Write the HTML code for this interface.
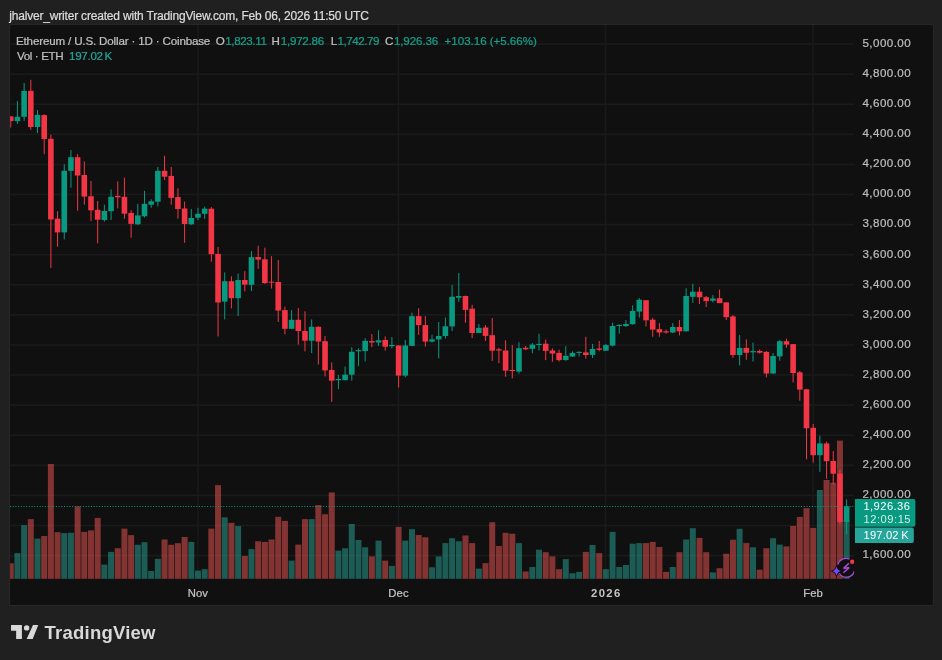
<!DOCTYPE html>
<html><head><meta charset="utf-8"><style>
*{margin:0;padding:0}
html,body{width:942px;height:660px;overflow:hidden;background:#202020}
svg{position:absolute;left:0;top:0;font-family:"Liberation Sans",sans-serif;will-change:transform}
</style></head><body>
<svg width="942" height="660" viewBox="0 0 942 660">
<rect x="9.5" y="24.5" width="924" height="581" rx="1.5" fill="#101010" stroke="#272727" stroke-width="1.2"/>
<line x1="10" y1="44.15" x2="854" y2="44.15" stroke="#1a1a1a" stroke-width="1.6"/>
<line x1="10" y1="74.23" x2="854" y2="74.23" stroke="#1a1a1a" stroke-width="1.6"/>
<line x1="10" y1="104.32" x2="854" y2="104.32" stroke="#1a1a1a" stroke-width="1.6"/>
<line x1="10" y1="134.4" x2="854" y2="134.4" stroke="#1a1a1a" stroke-width="1.6"/>
<line x1="10" y1="164.49" x2="854" y2="164.49" stroke="#1a1a1a" stroke-width="1.6"/>
<line x1="10" y1="194.57" x2="854" y2="194.57" stroke="#1a1a1a" stroke-width="1.6"/>
<line x1="10" y1="224.65" x2="854" y2="224.65" stroke="#1a1a1a" stroke-width="1.6"/>
<line x1="10" y1="254.74" x2="854" y2="254.74" stroke="#1a1a1a" stroke-width="1.6"/>
<line x1="10" y1="284.82" x2="854" y2="284.82" stroke="#1a1a1a" stroke-width="1.6"/>
<line x1="10" y1="314.91" x2="854" y2="314.91" stroke="#1a1a1a" stroke-width="1.6"/>
<line x1="10" y1="344.99" x2="854" y2="344.99" stroke="#1a1a1a" stroke-width="1.6"/>
<line x1="10" y1="375.07" x2="854" y2="375.07" stroke="#1a1a1a" stroke-width="1.6"/>
<line x1="10" y1="405.16" x2="854" y2="405.16" stroke="#1a1a1a" stroke-width="1.6"/>
<line x1="10" y1="435.24" x2="854" y2="435.24" stroke="#1a1a1a" stroke-width="1.6"/>
<line x1="10" y1="465.33" x2="854" y2="465.33" stroke="#1a1a1a" stroke-width="1.6"/>
<line x1="10" y1="495.41" x2="854" y2="495.41" stroke="#1a1a1a" stroke-width="1.6"/>
<line x1="10" y1="525.49" x2="854" y2="525.49" stroke="#1a1a1a" stroke-width="1.6"/>
<line x1="10" y1="555.58" x2="854" y2="555.58" stroke="#1a1a1a" stroke-width="1.6"/>
<line x1="198.0" y1="25" x2="198.0" y2="579" stroke="#1a1a1a" stroke-width="1.6"/>
<line x1="398.5" y1="25" x2="398.5" y2="579" stroke="#1a1a1a" stroke-width="1.6"/>
<line x1="605.5" y1="25" x2="605.5" y2="579" stroke="#1a1a1a" stroke-width="1.6"/>
<line x1="813.0" y1="25" x2="813.0" y2="579" stroke="#1a1a1a" stroke-width="1.6"/>
<rect x="7.75" y="563.30" width="6.0" height="15.50" fill="rgba(246,88,84,0.5)"/>
<rect x="14.44" y="553.10" width="6.0" height="25.70" fill="rgba(40,168,152,0.5)"/>
<rect x="21.12" y="525.10" width="6.0" height="53.70" fill="rgba(40,168,152,0.5)"/>
<rect x="27.81" y="519.10" width="6.0" height="59.70" fill="rgba(246,88,84,0.5)"/>
<rect x="34.50" y="538.60" width="6.0" height="40.20" fill="rgba(40,168,152,0.5)"/>
<rect x="41.19" y="536.00" width="6.0" height="42.80" fill="rgba(246,88,84,0.5)"/>
<rect x="47.87" y="464.00" width="6.0" height="114.80" fill="rgba(246,88,84,0.5)"/>
<rect x="54.56" y="532.20" width="6.0" height="46.60" fill="rgba(246,88,84,0.5)"/>
<rect x="61.25" y="533.10" width="6.0" height="45.70" fill="rgba(40,168,152,0.5)"/>
<rect x="67.93" y="532.80" width="6.0" height="46.00" fill="rgba(40,168,152,0.5)"/>
<rect x="74.62" y="506.40" width="6.0" height="72.40" fill="rgba(246,88,84,0.5)"/>
<rect x="81.31" y="531.90" width="6.0" height="46.90" fill="rgba(246,88,84,0.5)"/>
<rect x="87.99" y="530.40" width="6.0" height="48.40" fill="rgba(246,88,84,0.5)"/>
<rect x="94.68" y="517.90" width="6.0" height="60.90" fill="rgba(246,88,84,0.5)"/>
<rect x="101.37" y="564.60" width="6.0" height="14.20" fill="rgba(40,168,152,0.5)"/>
<rect x="108.06" y="551.90" width="6.0" height="26.90" fill="rgba(40,168,152,0.5)"/>
<rect x="114.74" y="548.20" width="6.0" height="30.60" fill="rgba(246,88,84,0.5)"/>
<rect x="121.43" y="528.60" width="6.0" height="50.20" fill="rgba(246,88,84,0.5)"/>
<rect x="128.12" y="535.10" width="6.0" height="43.70" fill="rgba(246,88,84,0.5)"/>
<rect x="134.80" y="544.80" width="6.0" height="34.00" fill="rgba(40,168,152,0.5)"/>
<rect x="141.49" y="542.20" width="6.0" height="36.60" fill="rgba(40,168,152,0.5)"/>
<rect x="148.18" y="571.00" width="6.0" height="7.80" fill="rgba(40,168,152,0.5)"/>
<rect x="154.86" y="558.80" width="6.0" height="20.00" fill="rgba(40,168,152,0.5)"/>
<rect x="161.55" y="539.50" width="6.0" height="39.30" fill="rgba(246,88,84,0.5)"/>
<rect x="168.24" y="544.80" width="6.0" height="34.00" fill="rgba(246,88,84,0.5)"/>
<rect x="174.93" y="543.20" width="6.0" height="35.60" fill="rgba(246,88,84,0.5)"/>
<rect x="181.61" y="537.00" width="6.0" height="41.80" fill="rgba(246,88,84,0.5)"/>
<rect x="188.30" y="541.90" width="6.0" height="36.90" fill="rgba(40,168,152,0.5)"/>
<rect x="194.99" y="570.60" width="6.0" height="8.20" fill="rgba(40,168,152,0.5)"/>
<rect x="201.67" y="569.20" width="6.0" height="9.60" fill="rgba(40,168,152,0.5)"/>
<rect x="208.36" y="528.60" width="6.0" height="50.20" fill="rgba(246,88,84,0.5)"/>
<rect x="215.05" y="485.10" width="6.0" height="93.70" fill="rgba(246,88,84,0.5)"/>
<rect x="221.73" y="517.30" width="6.0" height="61.50" fill="rgba(40,168,152,0.5)"/>
<rect x="228.42" y="522.80" width="6.0" height="56.00" fill="rgba(246,88,84,0.5)"/>
<rect x="235.11" y="526.00" width="6.0" height="52.80" fill="rgba(40,168,152,0.5)"/>
<rect x="241.80" y="555.90" width="6.0" height="22.90" fill="rgba(246,88,84,0.5)"/>
<rect x="248.48" y="549.10" width="6.0" height="29.70" fill="rgba(40,168,152,0.5)"/>
<rect x="255.17" y="541.30" width="6.0" height="37.50" fill="rgba(246,88,84,0.5)"/>
<rect x="261.86" y="541.90" width="6.0" height="36.90" fill="rgba(246,88,84,0.5)"/>
<rect x="268.54" y="539.50" width="6.0" height="39.30" fill="rgba(246,88,84,0.5)"/>
<rect x="275.23" y="516.80" width="6.0" height="62.00" fill="rgba(246,88,84,0.5)"/>
<rect x="281.92" y="520.90" width="6.0" height="57.90" fill="rgba(246,88,84,0.5)"/>
<rect x="288.60" y="560.60" width="6.0" height="18.20" fill="rgba(40,168,152,0.5)"/>
<rect x="295.29" y="544.60" width="6.0" height="34.20" fill="rgba(246,88,84,0.5)"/>
<rect x="301.98" y="519.10" width="6.0" height="59.70" fill="rgba(246,88,84,0.5)"/>
<rect x="308.67" y="519.10" width="6.0" height="59.70" fill="rgba(40,168,152,0.5)"/>
<rect x="315.35" y="505.10" width="6.0" height="73.70" fill="rgba(246,88,84,0.5)"/>
<rect x="322.04" y="514.20" width="6.0" height="64.60" fill="rgba(246,88,84,0.5)"/>
<rect x="328.73" y="492.40" width="6.0" height="86.40" fill="rgba(246,88,84,0.5)"/>
<rect x="335.41" y="550.60" width="6.0" height="28.20" fill="rgba(40,168,152,0.5)"/>
<rect x="342.10" y="548.20" width="6.0" height="30.60" fill="rgba(40,168,152,0.5)"/>
<rect x="348.79" y="524.00" width="6.0" height="54.80" fill="rgba(40,168,152,0.5)"/>
<rect x="355.47" y="540.00" width="6.0" height="38.80" fill="rgba(40,168,152,0.5)"/>
<rect x="362.16" y="547.30" width="6.0" height="31.50" fill="rgba(40,168,152,0.5)"/>
<rect x="368.85" y="556.40" width="6.0" height="22.40" fill="rgba(246,88,84,0.5)"/>
<rect x="375.54" y="540.60" width="6.0" height="38.20" fill="rgba(40,168,152,0.5)"/>
<rect x="382.22" y="560.60" width="6.0" height="18.20" fill="rgba(246,88,84,0.5)"/>
<rect x="388.91" y="565.90" width="6.0" height="12.90" fill="rgba(40,168,152,0.5)"/>
<rect x="395.60" y="526.90" width="6.0" height="51.90" fill="rgba(246,88,84,0.5)"/>
<rect x="402.28" y="540.60" width="6.0" height="38.20" fill="rgba(40,168,152,0.5)"/>
<rect x="408.97" y="529.10" width="6.0" height="49.70" fill="rgba(40,168,152,0.5)"/>
<rect x="415.66" y="535.00" width="6.0" height="43.80" fill="rgba(246,88,84,0.5)"/>
<rect x="422.34" y="537.30" width="6.0" height="41.50" fill="rgba(246,88,84,0.5)"/>
<rect x="429.03" y="567.30" width="6.0" height="11.50" fill="rgba(40,168,152,0.5)"/>
<rect x="435.72" y="556.40" width="6.0" height="22.40" fill="rgba(40,168,152,0.5)"/>
<rect x="442.41" y="543.10" width="6.0" height="35.70" fill="rgba(40,168,152,0.5)"/>
<rect x="449.09" y="538.20" width="6.0" height="40.60" fill="rgba(40,168,152,0.5)"/>
<rect x="455.78" y="541.30" width="6.0" height="37.50" fill="rgba(40,168,152,0.5)"/>
<rect x="462.47" y="535.50" width="6.0" height="43.30" fill="rgba(246,88,84,0.5)"/>
<rect x="469.15" y="543.10" width="6.0" height="35.70" fill="rgba(246,88,84,0.5)"/>
<rect x="475.84" y="568.60" width="6.0" height="10.20" fill="rgba(40,168,152,0.5)"/>
<rect x="482.53" y="563.10" width="6.0" height="15.70" fill="rgba(246,88,84,0.5)"/>
<rect x="489.21" y="522.20" width="6.0" height="56.60" fill="rgba(246,88,84,0.5)"/>
<rect x="495.90" y="546.00" width="6.0" height="32.80" fill="rgba(246,88,84,0.5)"/>
<rect x="502.59" y="532.80" width="6.0" height="46.00" fill="rgba(246,88,84,0.5)"/>
<rect x="509.28" y="533.70" width="6.0" height="45.10" fill="rgba(246,88,84,0.5)"/>
<rect x="515.96" y="543.10" width="6.0" height="35.70" fill="rgba(40,168,152,0.5)"/>
<rect x="522.65" y="571.50" width="6.0" height="7.30" fill="rgba(246,88,84,0.5)"/>
<rect x="529.34" y="567.00" width="6.0" height="11.80" fill="rgba(40,168,152,0.5)"/>
<rect x="536.02" y="549.70" width="6.0" height="29.10" fill="rgba(40,168,152,0.5)"/>
<rect x="542.71" y="552.20" width="6.0" height="26.60" fill="rgba(246,88,84,0.5)"/>
<rect x="549.40" y="556.40" width="6.0" height="22.40" fill="rgba(246,88,84,0.5)"/>
<rect x="556.08" y="569.20" width="6.0" height="9.60" fill="rgba(246,88,84,0.5)"/>
<rect x="562.77" y="559.10" width="6.0" height="19.70" fill="rgba(40,168,152,0.5)"/>
<rect x="569.46" y="573.30" width="6.0" height="5.50" fill="rgba(40,168,152,0.5)"/>
<rect x="576.14" y="571.90" width="6.0" height="6.90" fill="rgba(40,168,152,0.5)"/>
<rect x="582.83" y="551.90" width="6.0" height="26.90" fill="rgba(246,88,84,0.5)"/>
<rect x="589.52" y="545.00" width="6.0" height="33.80" fill="rgba(40,168,152,0.5)"/>
<rect x="596.21" y="553.10" width="6.0" height="25.70" fill="rgba(246,88,84,0.5)"/>
<rect x="602.89" y="569.20" width="6.0" height="9.60" fill="rgba(40,168,152,0.5)"/>
<rect x="609.58" y="531.90" width="6.0" height="46.90" fill="rgba(40,168,152,0.5)"/>
<rect x="616.27" y="567.00" width="6.0" height="11.80" fill="rgba(40,168,152,0.5)"/>
<rect x="622.95" y="565.00" width="6.0" height="13.80" fill="rgba(40,168,152,0.5)"/>
<rect x="629.64" y="543.70" width="6.0" height="35.10" fill="rgba(40,168,152,0.5)"/>
<rect x="636.33" y="543.10" width="6.0" height="35.70" fill="rgba(40,168,152,0.5)"/>
<rect x="643.01" y="543.10" width="6.0" height="35.70" fill="rgba(246,88,84,0.5)"/>
<rect x="649.70" y="541.90" width="6.0" height="36.90" fill="rgba(246,88,84,0.5)"/>
<rect x="656.39" y="547.00" width="6.0" height="31.80" fill="rgba(246,88,84,0.5)"/>
<rect x="663.08" y="571.90" width="6.0" height="6.90" fill="rgba(246,88,84,0.5)"/>
<rect x="669.76" y="567.00" width="6.0" height="11.80" fill="rgba(40,168,152,0.5)"/>
<rect x="676.45" y="552.20" width="6.0" height="26.60" fill="rgba(246,88,84,0.5)"/>
<rect x="683.14" y="539.50" width="6.0" height="39.30" fill="rgba(40,168,152,0.5)"/>
<rect x="689.82" y="528.20" width="6.0" height="50.60" fill="rgba(40,168,152,0.5)"/>
<rect x="696.51" y="537.90" width="6.0" height="40.90" fill="rgba(246,88,84,0.5)"/>
<rect x="703.20" y="552.20" width="6.0" height="26.60" fill="rgba(246,88,84,0.5)"/>
<rect x="709.88" y="572.40" width="6.0" height="6.40" fill="rgba(40,168,152,0.5)"/>
<rect x="716.57" y="568.20" width="6.0" height="10.60" fill="rgba(246,88,84,0.5)"/>
<rect x="723.26" y="553.70" width="6.0" height="25.10" fill="rgba(246,88,84,0.5)"/>
<rect x="729.95" y="539.70" width="6.0" height="39.10" fill="rgba(246,88,84,0.5)"/>
<rect x="736.63" y="528.80" width="6.0" height="50.00" fill="rgba(40,168,152,0.5)"/>
<rect x="743.32" y="543.10" width="6.0" height="35.70" fill="rgba(246,88,84,0.5)"/>
<rect x="750.01" y="547.30" width="6.0" height="31.50" fill="rgba(40,168,152,0.5)"/>
<rect x="756.69" y="569.70" width="6.0" height="9.10" fill="rgba(246,88,84,0.5)"/>
<rect x="763.38" y="548.20" width="6.0" height="30.60" fill="rgba(246,88,84,0.5)"/>
<rect x="770.07" y="538.20" width="6.0" height="40.60" fill="rgba(40,168,152,0.5)"/>
<rect x="776.75" y="544.60" width="6.0" height="34.20" fill="rgba(40,168,152,0.5)"/>
<rect x="783.44" y="546.40" width="6.0" height="32.40" fill="rgba(246,88,84,0.5)"/>
<rect x="790.13" y="525.90" width="6.0" height="52.90" fill="rgba(246,88,84,0.5)"/>
<rect x="796.82" y="516.90" width="6.0" height="61.90" fill="rgba(246,88,84,0.5)"/>
<rect x="803.50" y="508.20" width="6.0" height="70.60" fill="rgba(246,88,84,0.5)"/>
<rect x="810.19" y="527.90" width="6.0" height="50.90" fill="rgba(246,88,84,0.5)"/>
<rect x="816.88" y="490.00" width="6.0" height="88.80" fill="rgba(40,168,152,0.5)"/>
<rect x="823.56" y="480.00" width="6.0" height="98.80" fill="rgba(246,88,84,0.5)"/>
<rect x="830.25" y="482.70" width="6.0" height="96.10" fill="rgba(246,88,84,0.5)"/>
<rect x="836.94" y="440.60" width="6.0" height="138.20" fill="rgba(246,88,84,0.5)"/>
<rect x="843.62" y="520.00" width="6.0" height="58.80" fill="rgba(40,168,152,0.5)"/>
<rect x="10.25" y="116.00" width="1" height="11.50" fill="#f23645"/>
<rect x="7.95" y="116.40" width="5.6" height="4.70" fill="#f23645"/>
<rect x="16.94" y="101.10" width="1" height="22.70" fill="#089981"/>
<rect x="14.64" y="116.80" width="5.6" height="4.30" fill="#089981"/>
<rect x="23.62" y="83.00" width="1" height="37.90" fill="#089981"/>
<rect x="21.32" y="90.90" width="5.6" height="25.90" fill="#089981"/>
<rect x="30.31" y="79.80" width="1" height="50.00" fill="#f23645"/>
<rect x="28.01" y="90.90" width="5.6" height="36.10" fill="#f23645"/>
<rect x="37.00" y="110.00" width="1" height="23.00" fill="#089981"/>
<rect x="34.70" y="114.90" width="5.6" height="12.10" fill="#089981"/>
<rect x="43.69" y="114.20" width="1" height="40.00" fill="#f23645"/>
<rect x="41.39" y="115.10" width="5.6" height="23.90" fill="#f23645"/>
<rect x="50.37" y="134.80" width="1" height="133.10" fill="#f23645"/>
<rect x="48.07" y="138.80" width="5.6" height="80.70" fill="#f23645"/>
<rect x="57.06" y="211.20" width="1" height="35.50" fill="#f23645"/>
<rect x="54.76" y="218.70" width="5.6" height="13.70" fill="#f23645"/>
<rect x="63.75" y="164.30" width="1" height="75.10" fill="#089981"/>
<rect x="61.45" y="170.80" width="5.6" height="61.60" fill="#089981"/>
<rect x="70.43" y="150.00" width="1" height="37.70" fill="#089981"/>
<rect x="68.13" y="157.20" width="5.6" height="13.60" fill="#089981"/>
<rect x="77.12" y="154.10" width="1" height="56.60" fill="#f23645"/>
<rect x="74.82" y="157.20" width="5.6" height="18.30" fill="#f23645"/>
<rect x="83.81" y="161.40" width="1" height="43.30" fill="#f23645"/>
<rect x="81.51" y="175.00" width="5.6" height="21.60" fill="#f23645"/>
<rect x="90.49" y="181.00" width="1" height="39.90" fill="#f23645"/>
<rect x="88.19" y="196.20" width="5.6" height="14.10" fill="#f23645"/>
<rect x="97.18" y="201.00" width="1" height="42.30" fill="#f23645"/>
<rect x="94.88" y="209.80" width="5.6" height="9.90" fill="#f23645"/>
<rect x="103.87" y="204.70" width="1" height="17.00" fill="#089981"/>
<rect x="101.57" y="211.00" width="5.6" height="9.00" fill="#089981"/>
<rect x="110.56" y="189.40" width="1" height="30.60" fill="#089981"/>
<rect x="108.26" y="196.80" width="5.6" height="14.40" fill="#089981"/>
<rect x="117.24" y="181.30" width="1" height="27.20" fill="#f23645"/>
<rect x="114.94" y="195.90" width="5.6" height="1.40" fill="#f23645"/>
<rect x="123.93" y="177.60" width="1" height="41.10" fill="#f23645"/>
<rect x="121.63" y="196.80" width="5.6" height="16.90" fill="#f23645"/>
<rect x="130.62" y="210.20" width="1" height="27.50" fill="#f23645"/>
<rect x="128.32" y="212.90" width="5.6" height="11.00" fill="#f23645"/>
<rect x="137.30" y="203.90" width="1" height="21.20" fill="#089981"/>
<rect x="135.00" y="215.40" width="5.6" height="8.90" fill="#089981"/>
<rect x="143.99" y="190.80" width="1" height="26.70" fill="#089981"/>
<rect x="141.69" y="203.90" width="5.6" height="12.40" fill="#089981"/>
<rect x="150.68" y="199.30" width="1" height="8.50" fill="#089981"/>
<rect x="148.38" y="201.30" width="5.6" height="3.40" fill="#089981"/>
<rect x="157.36" y="167.00" width="1" height="39.40" fill="#089981"/>
<rect x="155.06" y="170.80" width="5.6" height="30.90" fill="#089981"/>
<rect x="164.05" y="155.80" width="1" height="24.30" fill="#f23645"/>
<rect x="161.75" y="170.80" width="5.6" height="5.90" fill="#f23645"/>
<rect x="170.74" y="167.00" width="1" height="37.70" fill="#f23645"/>
<rect x="168.44" y="175.90" width="5.6" height="22.00" fill="#f23645"/>
<rect x="177.43" y="188.30" width="1" height="30.40" fill="#f23645"/>
<rect x="175.12" y="197.10" width="5.6" height="11.90" fill="#f23645"/>
<rect x="184.11" y="201.70" width="1" height="41.10" fill="#f23645"/>
<rect x="181.81" y="208.50" width="5.6" height="15.50" fill="#f23645"/>
<rect x="190.80" y="209.00" width="1" height="15.80" fill="#089981"/>
<rect x="188.50" y="218.00" width="5.6" height="6.30" fill="#089981"/>
<rect x="197.49" y="207.80" width="1" height="12.40" fill="#089981"/>
<rect x="195.19" y="213.80" width="5.6" height="3.90" fill="#089981"/>
<rect x="204.17" y="206.60" width="1" height="12.30" fill="#089981"/>
<rect x="201.87" y="208.70" width="5.6" height="5.10" fill="#089981"/>
<rect x="210.86" y="207.00" width="1" height="54.70" fill="#f23645"/>
<rect x="208.56" y="208.70" width="5.6" height="45.50" fill="#f23645"/>
<rect x="217.55" y="246.90" width="1" height="89.50" fill="#f23645"/>
<rect x="215.25" y="253.90" width="5.6" height="48.60" fill="#f23645"/>
<rect x="224.23" y="272.40" width="1" height="47.00" fill="#089981"/>
<rect x="221.93" y="281.20" width="5.6" height="20.40" fill="#089981"/>
<rect x="230.92" y="276.30" width="1" height="32.10" fill="#f23645"/>
<rect x="228.62" y="281.20" width="5.6" height="17.00" fill="#f23645"/>
<rect x="237.61" y="273.60" width="1" height="42.40" fill="#089981"/>
<rect x="235.31" y="280.00" width="5.6" height="18.20" fill="#089981"/>
<rect x="244.30" y="271.20" width="1" height="20.20" fill="#f23645"/>
<rect x="242.00" y="280.00" width="5.6" height="4.60" fill="#f23645"/>
<rect x="250.98" y="251.10" width="1" height="39.90" fill="#089981"/>
<rect x="248.68" y="257.10" width="5.6" height="27.70" fill="#089981"/>
<rect x="257.67" y="245.70" width="1" height="23.10" fill="#f23645"/>
<rect x="255.37" y="257.10" width="5.6" height="2.50" fill="#f23645"/>
<rect x="264.36" y="247.70" width="1" height="36.10" fill="#f23645"/>
<rect x="262.06" y="259.30" width="5.6" height="23.80" fill="#f23645"/>
<rect x="271.04" y="256.20" width="1" height="32.30" fill="#f23645"/>
<rect x="268.74" y="281.70" width="5.6" height="1.00" fill="#f23645"/>
<rect x="277.73" y="260.00" width="1" height="62.00" fill="#f23645"/>
<rect x="275.43" y="282.00" width="5.6" height="28.60" fill="#f23645"/>
<rect x="284.42" y="306.70" width="1" height="27.70" fill="#f23645"/>
<rect x="282.12" y="310.10" width="5.6" height="18.70" fill="#f23645"/>
<rect x="291.10" y="310.10" width="1" height="18.70" fill="#089981"/>
<rect x="288.80" y="319.80" width="5.6" height="9.00" fill="#089981"/>
<rect x="297.79" y="307.90" width="1" height="36.70" fill="#f23645"/>
<rect x="295.49" y="319.80" width="5.6" height="11.20" fill="#f23645"/>
<rect x="304.48" y="311.30" width="1" height="40.10" fill="#f23645"/>
<rect x="302.18" y="331.00" width="5.6" height="9.70" fill="#f23645"/>
<rect x="311.17" y="319.40" width="1" height="33.70" fill="#089981"/>
<rect x="308.87" y="326.80" width="5.6" height="13.90" fill="#089981"/>
<rect x="317.85" y="326.20" width="1" height="38.30" fill="#f23645"/>
<rect x="315.55" y="326.80" width="5.6" height="14.70" fill="#f23645"/>
<rect x="324.54" y="336.10" width="1" height="40.30" fill="#f23645"/>
<rect x="322.24" y="341.20" width="5.6" height="29.20" fill="#f23645"/>
<rect x="331.23" y="362.40" width="1" height="39.50" fill="#f23645"/>
<rect x="328.93" y="370.00" width="5.6" height="10.70" fill="#f23645"/>
<rect x="337.91" y="375.00" width="1" height="14.20" fill="#089981"/>
<rect x="335.61" y="379.00" width="5.6" height="1.20" fill="#089981"/>
<rect x="344.60" y="366.60" width="1" height="13.60" fill="#089981"/>
<rect x="342.30" y="374.70" width="5.6" height="5.50" fill="#089981"/>
<rect x="351.29" y="347.20" width="1" height="33.50" fill="#089981"/>
<rect x="348.99" y="351.80" width="5.6" height="22.90" fill="#089981"/>
<rect x="357.97" y="348.40" width="1" height="17.80" fill="#089981"/>
<rect x="355.67" y="350.10" width="5.6" height="1.20" fill="#089981"/>
<rect x="364.66" y="338.20" width="1" height="23.30" fill="#089981"/>
<rect x="362.36" y="340.80" width="5.6" height="10.20" fill="#089981"/>
<rect x="371.35" y="334.00" width="1" height="13.20" fill="#f23645"/>
<rect x="369.05" y="341.10" width="5.6" height="1.40" fill="#f23645"/>
<rect x="378.04" y="330.20" width="1" height="15.70" fill="#089981"/>
<rect x="375.74" y="340.30" width="5.6" height="2.20" fill="#089981"/>
<rect x="384.72" y="336.50" width="1" height="14.10" fill="#f23645"/>
<rect x="382.42" y="339.90" width="5.6" height="6.80" fill="#f23645"/>
<rect x="391.41" y="337.00" width="1" height="11.40" fill="#089981"/>
<rect x="389.11" y="345.00" width="5.6" height="1.20" fill="#089981"/>
<rect x="398.10" y="345.00" width="1" height="42.50" fill="#f23645"/>
<rect x="395.80" y="345.50" width="5.6" height="30.10" fill="#f23645"/>
<rect x="404.78" y="339.90" width="1" height="37.40" fill="#089981"/>
<rect x="402.48" y="345.50" width="5.6" height="30.10" fill="#089981"/>
<rect x="411.47" y="312.70" width="1" height="33.50" fill="#089981"/>
<rect x="409.17" y="316.10" width="5.6" height="29.80" fill="#089981"/>
<rect x="418.16" y="308.20" width="1" height="26.60" fill="#f23645"/>
<rect x="415.86" y="316.10" width="5.6" height="9.00" fill="#f23645"/>
<rect x="424.84" y="316.10" width="1" height="30.60" fill="#f23645"/>
<rect x="422.54" y="325.10" width="5.6" height="16.50" fill="#f23645"/>
<rect x="431.53" y="334.80" width="1" height="7.70" fill="#089981"/>
<rect x="429.23" y="339.40" width="5.6" height="2.20" fill="#089981"/>
<rect x="438.22" y="322.00" width="1" height="36.30" fill="#089981"/>
<rect x="435.92" y="336.00" width="5.6" height="3.40" fill="#089981"/>
<rect x="444.91" y="317.50" width="1" height="21.00" fill="#089981"/>
<rect x="442.61" y="326.30" width="5.6" height="9.70" fill="#089981"/>
<rect x="451.59" y="284.90" width="1" height="46.20" fill="#089981"/>
<rect x="449.29" y="296.80" width="5.6" height="29.60" fill="#089981"/>
<rect x="458.28" y="273.00" width="1" height="28.90" fill="#089981"/>
<rect x="455.98" y="296.00" width="5.6" height="1.70" fill="#089981"/>
<rect x="464.97" y="295.60" width="1" height="27.20" fill="#f23645"/>
<rect x="462.67" y="296.00" width="5.6" height="13.90" fill="#f23645"/>
<rect x="471.65" y="304.80" width="1" height="33.30" fill="#f23645"/>
<rect x="469.35" y="308.70" width="5.6" height="24.30" fill="#f23645"/>
<rect x="478.34" y="324.00" width="1" height="9.00" fill="#089981"/>
<rect x="476.04" y="327.90" width="5.6" height="5.10" fill="#089981"/>
<rect x="485.03" y="325.20" width="1" height="15.80" fill="#f23645"/>
<rect x="482.73" y="327.50" width="5.6" height="8.40" fill="#f23645"/>
<rect x="491.71" y="318.00" width="1" height="42.90" fill="#f23645"/>
<rect x="489.41" y="335.20" width="5.6" height="15.50" fill="#f23645"/>
<rect x="498.40" y="347.80" width="1" height="15.40" fill="#f23645"/>
<rect x="496.10" y="349.30" width="5.6" height="1.20" fill="#f23645"/>
<rect x="505.09" y="340.30" width="1" height="36.40" fill="#f23645"/>
<rect x="502.79" y="350.50" width="5.6" height="20.10" fill="#f23645"/>
<rect x="511.78" y="345.10" width="1" height="33.30" fill="#f23645"/>
<rect x="509.48" y="369.90" width="5.6" height="1.20" fill="#f23645"/>
<rect x="518.46" y="342.20" width="1" height="31.40" fill="#089981"/>
<rect x="516.16" y="348.20" width="5.6" height="23.40" fill="#089981"/>
<rect x="525.15" y="346.00" width="1" height="4.10" fill="#f23645"/>
<rect x="522.85" y="347.80" width="5.6" height="1.50" fill="#f23645"/>
<rect x="531.84" y="343.10" width="1" height="10.20" fill="#089981"/>
<rect x="529.54" y="344.60" width="5.6" height="4.20" fill="#089981"/>
<rect x="538.52" y="333.70" width="1" height="16.80" fill="#089981"/>
<rect x="536.22" y="343.90" width="5.6" height="1.10" fill="#089981"/>
<rect x="545.21" y="339.50" width="1" height="20.60" fill="#f23645"/>
<rect x="542.91" y="343.70" width="5.6" height="7.20" fill="#f23645"/>
<rect x="551.90" y="348.40" width="1" height="13.40" fill="#f23645"/>
<rect x="549.60" y="350.50" width="5.6" height="3.10" fill="#f23645"/>
<rect x="558.58" y="349.80" width="1" height="11.80" fill="#f23645"/>
<rect x="556.28" y="352.90" width="5.6" height="7.20" fill="#f23645"/>
<rect x="565.27" y="346.10" width="1" height="14.60" fill="#089981"/>
<rect x="562.97" y="355.80" width="5.6" height="4.30" fill="#089981"/>
<rect x="571.96" y="351.20" width="1" height="5.80" fill="#089981"/>
<rect x="569.66" y="352.90" width="5.6" height="3.60" fill="#089981"/>
<rect x="578.64" y="351.20" width="1" height="5.10" fill="#089981"/>
<rect x="576.35" y="351.90" width="5.6" height="1.00" fill="#089981"/>
<rect x="585.33" y="336.80" width="1" height="21.90" fill="#f23645"/>
<rect x="583.03" y="352.40" width="5.6" height="2.60" fill="#f23645"/>
<rect x="592.02" y="343.90" width="1" height="14.10" fill="#089981"/>
<rect x="589.72" y="349.00" width="5.6" height="5.90" fill="#089981"/>
<rect x="598.71" y="341.00" width="1" height="10.20" fill="#f23645"/>
<rect x="596.41" y="348.50" width="5.6" height="1.30" fill="#f23645"/>
<rect x="605.39" y="343.90" width="1" height="6.80" fill="#089981"/>
<rect x="603.09" y="345.10" width="5.6" height="5.60" fill="#089981"/>
<rect x="612.08" y="322.70" width="1" height="23.70" fill="#089981"/>
<rect x="609.78" y="326.00" width="5.6" height="19.60" fill="#089981"/>
<rect x="618.77" y="324.40" width="1" height="9.30" fill="#089981"/>
<rect x="616.47" y="324.90" width="5.6" height="1.10" fill="#089981"/>
<rect x="625.45" y="320.10" width="1" height="6.80" fill="#089981"/>
<rect x="623.15" y="324.00" width="5.6" height="2.10" fill="#089981"/>
<rect x="632.14" y="305.30" width="1" height="19.30" fill="#089981"/>
<rect x="629.84" y="310.90" width="5.6" height="13.30" fill="#089981"/>
<rect x="638.83" y="298.00" width="1" height="19.60" fill="#089981"/>
<rect x="636.53" y="299.70" width="5.6" height="11.90" fill="#089981"/>
<rect x="645.51" y="300.20" width="1" height="26.30" fill="#f23645"/>
<rect x="643.22" y="300.20" width="5.6" height="20.10" fill="#f23645"/>
<rect x="652.20" y="317.70" width="1" height="19.00" fill="#f23645"/>
<rect x="649.90" y="319.70" width="5.6" height="9.90" fill="#f23645"/>
<rect x="658.89" y="323.10" width="1" height="13.60" fill="#f23645"/>
<rect x="656.59" y="329.10" width="5.6" height="3.40" fill="#f23645"/>
<rect x="665.58" y="329.60" width="1" height="4.10" fill="#f23645"/>
<rect x="663.28" y="331.30" width="5.6" height="1.20" fill="#f23645"/>
<rect x="672.26" y="323.10" width="1" height="9.90" fill="#089981"/>
<rect x="669.96" y="327.00" width="5.6" height="5.50" fill="#089981"/>
<rect x="678.95" y="320.10" width="1" height="15.30" fill="#f23645"/>
<rect x="676.65" y="327.00" width="5.6" height="4.30" fill="#f23645"/>
<rect x="685.64" y="288.30" width="1" height="43.30" fill="#089981"/>
<rect x="683.34" y="296.00" width="5.6" height="35.30" fill="#089981"/>
<rect x="692.32" y="283.70" width="1" height="19.10" fill="#089981"/>
<rect x="690.02" y="291.70" width="5.6" height="5.10" fill="#089981"/>
<rect x="699.01" y="287.10" width="1" height="17.00" fill="#f23645"/>
<rect x="696.71" y="291.70" width="5.6" height="5.60" fill="#f23645"/>
<rect x="705.70" y="296.00" width="1" height="11.00" fill="#f23645"/>
<rect x="703.40" y="297.20" width="5.6" height="3.90" fill="#f23645"/>
<rect x="712.38" y="295.10" width="1" height="7.30" fill="#089981"/>
<rect x="710.09" y="298.50" width="5.6" height="2.20" fill="#089981"/>
<rect x="719.07" y="289.50" width="1" height="13.60" fill="#f23645"/>
<rect x="716.77" y="298.20" width="5.6" height="4.90" fill="#f23645"/>
<rect x="725.76" y="302.40" width="1" height="17.70" fill="#f23645"/>
<rect x="723.46" y="302.40" width="5.6" height="14.80" fill="#f23645"/>
<rect x="732.45" y="315.00" width="1" height="42.80" fill="#f23645"/>
<rect x="730.15" y="316.40" width="5.6" height="38.60" fill="#f23645"/>
<rect x="739.13" y="335.00" width="1" height="30.50" fill="#089981"/>
<rect x="736.83" y="347.90" width="5.6" height="7.10" fill="#089981"/>
<rect x="745.82" y="339.40" width="1" height="20.40" fill="#f23645"/>
<rect x="743.52" y="347.90" width="5.6" height="4.90" fill="#f23645"/>
<rect x="752.51" y="342.60" width="1" height="18.90" fill="#089981"/>
<rect x="750.21" y="351.10" width="5.6" height="1.20" fill="#089981"/>
<rect x="759.19" y="349.60" width="1" height="4.00" fill="#f23645"/>
<rect x="756.89" y="351.00" width="5.6" height="1.70" fill="#f23645"/>
<rect x="765.88" y="351.10" width="1" height="26.30" fill="#f23645"/>
<rect x="763.58" y="351.90" width="5.6" height="21.60" fill="#f23645"/>
<rect x="772.57" y="353.00" width="1" height="20.50" fill="#089981"/>
<rect x="770.27" y="356.00" width="5.6" height="17.50" fill="#089981"/>
<rect x="779.25" y="340.00" width="1" height="20.80" fill="#089981"/>
<rect x="776.96" y="341.20" width="5.6" height="15.20" fill="#089981"/>
<rect x="785.94" y="338.70" width="1" height="9.00" fill="#f23645"/>
<rect x="783.64" y="341.20" width="5.6" height="3.40" fill="#f23645"/>
<rect x="792.63" y="344.10" width="1" height="38.40" fill="#f23645"/>
<rect x="790.33" y="344.10" width="5.6" height="28.90" fill="#f23645"/>
<rect x="799.32" y="371.00" width="1" height="29.70" fill="#f23645"/>
<rect x="797.02" y="372.30" width="5.6" height="17.30" fill="#f23645"/>
<rect x="806.00" y="388.80" width="1" height="70.60" fill="#f23645"/>
<rect x="803.70" y="389.30" width="5.6" height="39.00" fill="#f23645"/>
<rect x="812.69" y="424.00" width="1" height="38.50" fill="#f23645"/>
<rect x="810.39" y="427.80" width="5.6" height="27.40" fill="#f23645"/>
<rect x="819.38" y="435.70" width="1" height="36.10" fill="#089981"/>
<rect x="817.08" y="443.40" width="5.6" height="11.80" fill="#089981"/>
<rect x="826.06" y="441.60" width="1" height="37.20" fill="#f23645"/>
<rect x="823.76" y="443.40" width="5.6" height="17.80" fill="#f23645"/>
<rect x="832.75" y="451.00" width="1" height="33.50" fill="#f23645"/>
<rect x="830.45" y="461.00" width="5.6" height="12.70" fill="#f23645"/>
<rect x="839.44" y="470.10" width="1" height="54.20" fill="#f23645"/>
<rect x="837.14" y="473.70" width="5.6" height="48.20" fill="#f23645"/>
<rect x="846.12" y="499.35" width="1" height="34.65" fill="#089981"/>
<rect x="843.83" y="506.35" width="5.6" height="15.55" fill="#089981"/>
<rect x="0" y="24" width="9" height="583" fill="#202020"/>
<line x1="9.5" y1="25" x2="9.5" y2="605" stroke="#272727" stroke-width="1.2"/>
<line x1="10" y1="506.5" x2="855" y2="506.5" stroke="#089981" stroke-width="1" stroke-dasharray="1 1.7"/>
<text x="9.2" y="20.1" font-size="12" fill="#dcdcdc" stroke="#dcdcdc" stroke-width="0.22" textLength="359.6" lengthAdjust="spacing">jhalver_writer created with TradingView.com, Feb 06, 2026 11:50 UTC</text>
<text x="16.0" y="45" font-size="11.6" fill="#c0c0c0" stroke="#c0c0c0" stroke-width="0.22" textLength="194.3" lengthAdjust="spacing">Ethereum / U.S. Dollar · 1D · Coinbase</text>
<text x="215.8" y="45" font-size="11.6" fill="#c0c0c0" stroke="#c0c0c0" stroke-width="0.22">O</text>
<text x="225.2" y="45" font-size="11.6" fill="#16a08a" stroke="#16a08a" stroke-width="0.22" textLength="41.7" lengthAdjust="spacing">1,823.11</text>
<text x="271.5" y="45" font-size="11.6" fill="#c0c0c0" stroke="#c0c0c0" stroke-width="0.22">H</text>
<text x="280.8" y="45" font-size="11.6" fill="#16a08a" stroke="#16a08a" stroke-width="0.22" textLength="43.4" lengthAdjust="spacing">1,972.86</text>
<text x="330.8" y="45" font-size="11.6" fill="#c0c0c0" stroke="#c0c0c0" stroke-width="0.22">L</text>
<text x="337.6" y="45" font-size="11.6" fill="#16a08a" stroke="#16a08a" stroke-width="0.22" textLength="41.8" lengthAdjust="spacing">1,742.79</text>
<text x="385.1" y="45" font-size="11.6" fill="#c0c0c0" stroke="#c0c0c0" stroke-width="0.22">C</text>
<text x="393.9" y="45" font-size="11.6" fill="#16a08a" stroke="#16a08a" stroke-width="0.22" textLength="44.4" lengthAdjust="spacing">1,926.36</text>
<text x="444.6" y="45" font-size="11.6" fill="#16a08a" stroke="#16a08a" stroke-width="0.22" textLength="92.2" lengthAdjust="spacing">+103.16 (+5.66%)</text>
<text x="16.9" y="60.3" font-size="11.6" fill="#c0c0c0" stroke="#c0c0c0" stroke-width="0.22" textLength="46.8" lengthAdjust="spacing">Vol · ETH</text>
<text x="69.0" y="60.3" font-size="11.6" fill="#22a69a" stroke="#22a69a" stroke-width="0.22" textLength="34.0" lengthAdjust="spacing">197.02</text>
<text x="104.6" y="60.3" font-size="11.6" fill="#22a69a" stroke="#22a69a" stroke-width="0.22">K</text>
<text x="862.5" y="46.95" font-size="11.6" fill="#bdbdbd" stroke="#bdbdbd" stroke-width="0.22" textLength="48.1" lengthAdjust="spacing">5,000.00</text>
<text x="862.5" y="77.03" font-size="11.6" fill="#bdbdbd" stroke="#bdbdbd" stroke-width="0.22" textLength="48.1" lengthAdjust="spacing">4,800.00</text>
<text x="862.5" y="107.12" font-size="11.6" fill="#bdbdbd" stroke="#bdbdbd" stroke-width="0.22" textLength="48.1" lengthAdjust="spacing">4,600.00</text>
<text x="862.5" y="137.2" font-size="11.6" fill="#bdbdbd" stroke="#bdbdbd" stroke-width="0.22" textLength="48.1" lengthAdjust="spacing">4,400.00</text>
<text x="862.5" y="167.29" font-size="11.6" fill="#bdbdbd" stroke="#bdbdbd" stroke-width="0.22" textLength="48.1" lengthAdjust="spacing">4,200.00</text>
<text x="862.5" y="197.37" font-size="11.6" fill="#bdbdbd" stroke="#bdbdbd" stroke-width="0.22" textLength="48.1" lengthAdjust="spacing">4,000.00</text>
<text x="862.5" y="227.45" font-size="11.6" fill="#bdbdbd" stroke="#bdbdbd" stroke-width="0.22" textLength="48.1" lengthAdjust="spacing">3,800.00</text>
<text x="862.5" y="257.54" font-size="11.6" fill="#bdbdbd" stroke="#bdbdbd" stroke-width="0.22" textLength="48.1" lengthAdjust="spacing">3,600.00</text>
<text x="862.5" y="287.62" font-size="11.6" fill="#bdbdbd" stroke="#bdbdbd" stroke-width="0.22" textLength="48.1" lengthAdjust="spacing">3,400.00</text>
<text x="862.5" y="317.71" font-size="11.6" fill="#bdbdbd" stroke="#bdbdbd" stroke-width="0.22" textLength="48.1" lengthAdjust="spacing">3,200.00</text>
<text x="862.5" y="347.79" font-size="11.6" fill="#bdbdbd" stroke="#bdbdbd" stroke-width="0.22" textLength="48.1" lengthAdjust="spacing">3,000.00</text>
<text x="862.5" y="377.87" font-size="11.6" fill="#bdbdbd" stroke="#bdbdbd" stroke-width="0.22" textLength="48.1" lengthAdjust="spacing">2,800.00</text>
<text x="862.5" y="407.96" font-size="11.6" fill="#bdbdbd" stroke="#bdbdbd" stroke-width="0.22" textLength="48.1" lengthAdjust="spacing">2,600.00</text>
<text x="862.5" y="438.04" font-size="11.6" fill="#bdbdbd" stroke="#bdbdbd" stroke-width="0.22" textLength="48.1" lengthAdjust="spacing">2,400.00</text>
<text x="862.5" y="468.13" font-size="11.6" fill="#bdbdbd" stroke="#bdbdbd" stroke-width="0.22" textLength="48.1" lengthAdjust="spacing">2,200.00</text>
<text x="862.5" y="498.21" font-size="11.6" fill="#bdbdbd" stroke="#bdbdbd" stroke-width="0.22" textLength="48.1" lengthAdjust="spacing">2,000.00</text>
<text x="862.5" y="558.38" font-size="11.6" fill="#bdbdbd" stroke="#bdbdbd" stroke-width="0.22" textLength="48.1" lengthAdjust="spacing">1,600.00</text>
<text x="197.8" y="597" font-size="11.3" fill="#c4c4c4" stroke="#c4c4c4" stroke-width="0.22" text-anchor="middle">Nov</text>
<text x="388.3" y="597" font-size="11.3" fill="#c4c4c4" stroke="#c4c4c4" stroke-width="0.22" textLength="20.4" lengthAdjust="spacing">Dec</text>
<text x="591.0" y="597" font-size="11.3" fill="#c4c4c4" textLength="29.2" lengthAdjust="spacing" font-weight="bold">2026</text>
<text x="813" y="597" font-size="11.3" fill="#c4c4c4" stroke="#c4c4c4" stroke-width="0.22" text-anchor="middle">Feb</text>
<path d="M855 499H913.4Q915.4 499 915.4 501V524.8Q915.4 526.8 913.4 526.8H855Z" fill="#089981"/>
<path d="M855 527.4H911.8Q913.8 527.4 913.8 529.4V540.9Q913.8 542.9 911.8 542.9H855Z" fill="#26a69a"/>
<text x="863.4" y="510.1" font-size="11.2" fill="#ffffff" textLength="46.6" lengthAdjust="spacing">1,926.36</text>
<text x="863.6" y="522.8" font-size="11.2" fill="rgba(255,255,255,0.82)" textLength="47.0" lengthAdjust="spacing">12:09:15</text>
<text x="863.6" y="539.3" font-size="11.2" fill="#ffffff" textLength="34.9" lengthAdjust="spacing">197.02</text>
<text x="901.2" y="539.3" font-size="11.2" fill="#ffffff">K</text>
<clipPath id="pc"><rect x="10" y="25" width="844.2" height="580"/></clipPath><g clip-path="url(#pc)">
<circle cx="846" cy="567.7" r="9.6" fill="#101010"/>
<path d="M849.6 559.3A8.2 8.2 0 0 0 837.9 564.6" fill="none" stroke="#a848d8" stroke-width="1.25"/>
<path d="M839.4 573.2A8.2 8.2 0 0 0 854.4 571" fill="none" stroke="#a848d8" stroke-width="1.25"/>
<path d="M848.9 563.2L843.6 568.4L849.2 567.6L843.4 572.8" fill="none" stroke="#a848d8" stroke-width="1.5" stroke-linejoin="bevel"/>
<path d="M836.5 565.8Q837.3 570.3 841.6 571.1Q837.3 571.9 836.5 576.4Q835.7 571.9 831.4 571.1Q835.7 570.3 836.5 565.8Z" fill="#7048ff" stroke="#101010" stroke-width="0.9"/>
<circle cx="852.3" cy="561.7" r="2.3" fill="#f23645"/>
</g>
<path d="M11.05 625H21.9V638.9H16.15V630.7H11.05Z" fill="#d9d9d9"/>
<circle cx="26.65" cy="627.9" r="2.7" fill="#d9d9d9"/>
<path d="M33 625H38.25L32.7 638.9H26.65Z" fill="#d9d9d9"/>
<text x="44.6" y="638.9" font-size="18.5" fill="#d9d9d9" textLength="110.9" lengthAdjust="spacing" font-weight="bold">TradingView</text>
</svg>
</body></html>
